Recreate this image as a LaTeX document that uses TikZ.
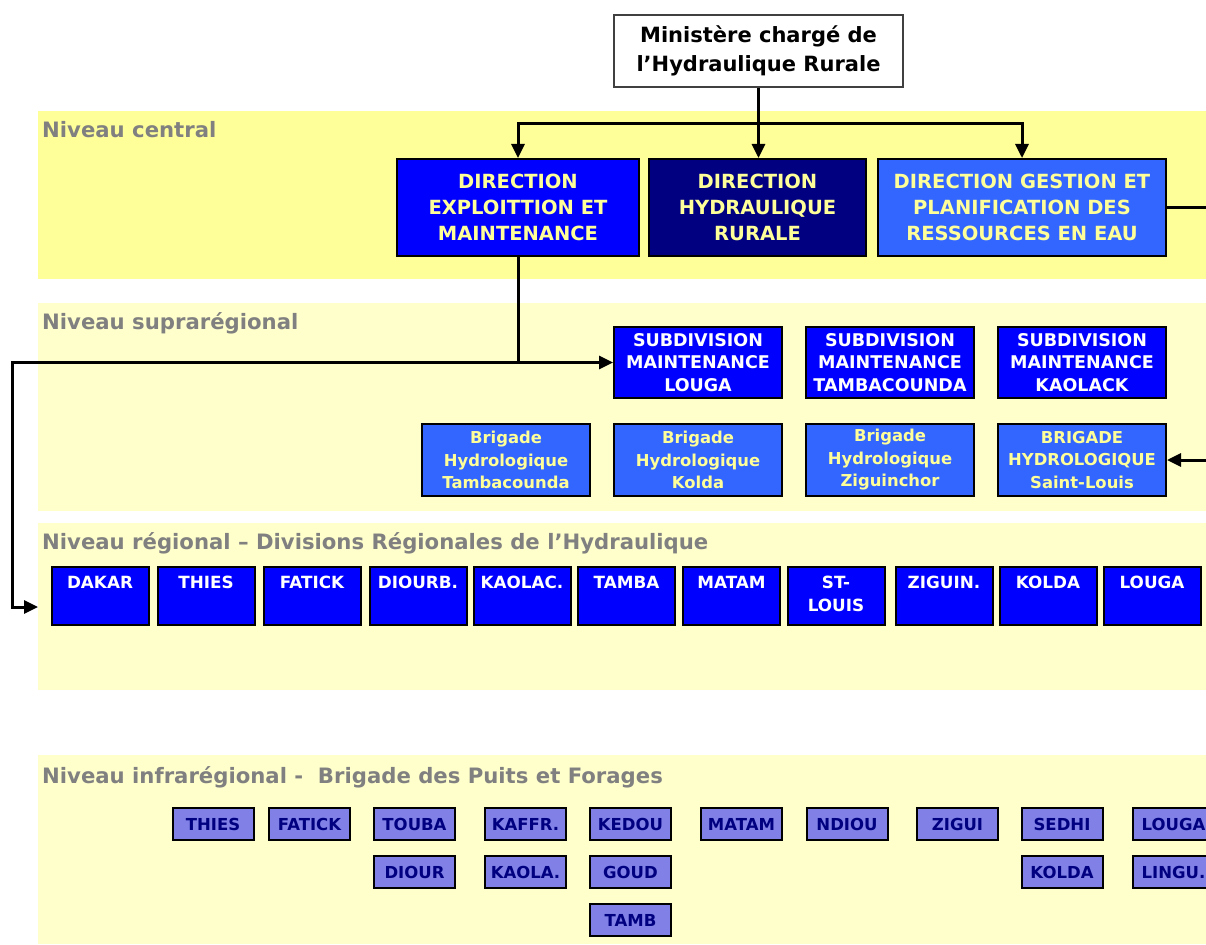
\documentclass[tikz,border=0pt]{standalone}
\usepackage{fontspec}
\setmainfont{DejaVu Sans}
\usetikzlibrary{arrows.meta}
\definecolor{bandA}{HTML}{FFFF99}
\definecolor{bandB}{HTML}{FFFFCC}
\definecolor{lblgray}{HTML}{808080}
\definecolor{blueA}{HTML}{0000FF}
\definecolor{blueB}{HTML}{000080}
\definecolor{blueC}{HTML}{3366FF}
\definecolor{lav}{HTML}{8080E6}
\definecolor{txtyellow}{HTML}{FFFF99}
\definecolor{navytxt}{HTML}{000080}
\tikzset{
  lvl/.style={anchor=west, text=lblgray, inner sep=0pt, font=\fontsize{21.2}{24}\selectfont\bfseries},
  box/.style={draw=black, line width=2pt, rectangle, inner sep=0pt, align=center},
  minbox/.style={draw=black!75, line width=1.5pt, fill=white, minimum width=289, minimum height=72, inner sep=0pt, align=center, font=\fontsize{21}{29}\selectfont\bfseries},
  dirbox/.style={box, minimum height=97, text=txtyellow, font=\fontsize{19.5}{26}\selectfont\bfseries},
  subbox/.style={box, fill=blueA, minimum width=168, minimum height=71, text=white, font=\fontsize{17.5}{22.5}\selectfont\bfseries},
  brigbox/.style={box, fill=blueC, minimum width=168, minimum height=72, text=txtyellow, font=\fontsize{16.4}{22.5}\selectfont\bfseries},
  regbox/.style={box, fill=blueA, text=white, font=\fontsize{16.8}{23}\selectfont\bfseries},
  infbox/.style={box, fill=lav, minimum width=81, minimum height=32, text=navytxt, font=\fontsize{16.5}{20}\selectfont\bfseries},
  conn/.style={line width=3pt, -{Triangle[length=14pt,width=13pt]}},
  biconn/.style={line width=3pt, {Triangle[length=14pt,width=13pt]}-{Triangle[length=14pt,width=13pt]}}
}
\newcommand\regtxt[1]{\parbox[c][58pt][t]{97pt}{\centering\rule{0pt}{21pt}#1}}
\begin{document}
\begin{tikzpicture}[x=1pt,y=-1pt]
\useasboundingbox (0,0) rectangle (1206,944);
\begin{scope}
\clip (0,0) rectangle (1206,944);
% bands
\fill[bandA] (38,111) rectangle (1206,279);
\fill[bandB] (38,303) rectangle (1206,511);
\fill[bandB] (38,523) rectangle (1206,690);
\fill[bandB] (38,755) rectangle (1206,944);
\node[lvl] (l1) at (42,130) {Niveau central};
\node[lvl] (l2) at (42,323) {Niveau suprarégional};
\node[lvl] (l3) at (42,543) {Niveau régional – Divisions Régionales de l’Hydraulique};
\node[lvl] (l4) at (42,777) {Niveau infrarégional -\ \ Brigade des Puits et Forages};
% top
\node[minbox] (min) at (758.5,51) {Ministère chargé de\\l’Hydraulique Rurale};
\node[dirbox, fill=blueA, minimum width=242] (dem) at (518,207.5) {DIRECTION\\EXPLOITTION ET\\MAINTENANCE};
\node[dirbox, fill=blueB, minimum width=217] (dhr) at (757.5,207.5) {DIRECTION\\HYDRAULIQUE\\RURALE};
\node[dirbox, fill=blueC, minimum width=288] (dgpre) at (1022,207.5) {DIRECTION GESTION ET\\PLANIFICATION DES\\RESSOURCES EN EAU};
% supraregional
\node[subbox] (subL) at (698,362.5) {SUBDIVISION\\MAINTENANCE\\LOUGA};
\node[subbox] (subT) at (890,362.5) {SUBDIVISION\\MAINTENANCE\\TAMBACOUNDA};
\node[subbox] (subK) at (1082,362.5) {SUBDIVISION\\MAINTENANCE\\KAOLACK};
\node[brigbox] (brT) at (506,460) {Brigade\\Hydrologique\\Tambacounda};
\node[brigbox] (brK) at (698,460) {Brigade\\Hydrologique\\Kolda};
\node[brigbox] (brZ) at (890,460) {Brigade\\Hydrologique\\Ziguinchor};
\node[brigbox] (brS) at (1082,460) {BRIGADE\\HYDROLOGIQUE\\Saint-Louis};
% regional
\node[regbox] (rDAK) at (100,596) {\regtxt{DAKAR}};
\node[regbox] (rTHI) at (206,596) {\regtxt{THIES}};
\node[regbox] (rFAT) at (312,596) {\regtxt{FATICK}};
\node[regbox] (rDIO) at (418,596) {\regtxt{DIOURB.}};
\node[regbox] (rKAO) at (522,596) {\regtxt{KAOLAC.}};
\node[regbox] (rTAM) at (626.5,596) {\regtxt{TAMBA}};
\node[regbox] (rMAT) at (731.5,596) {\regtxt{MATAM}};
\node[regbox] (rSTL) at (836,596) {\regtxt{ST-\\LOUIS}};
\node[regbox] (rZIG) at (944,596) {\regtxt{ZIGUIN.}};
\node[regbox] (rKOL) at (1048,596) {\regtxt{KOLDA}};
\node[regbox] (rLOU) at (1152,596) {\regtxt{LOUGA}};
% infraregional
\node[infbox] (iTHI) at (213,824) {THIES};
\node[infbox] (iFAT) at (309.5,824) {FATICK};
\node[infbox] (iTOU) at (414.5,824) {TOUBA};
\node[infbox] (iKAF) at (525.5,824) {KAFFR.};
\node[infbox] (iKED) at (630.5,824) {KEDOU};
\node[infbox] (iMAT) at (741.5,824) {MATAM};
\node[infbox] (iNDI) at (847,824) {NDIOU};
\node[infbox] (iZIG) at (957.5,824) {ZIGUI};
\node[infbox] (iSED) at (1062,824) {SEDHI};
\node[infbox] (iLOU) at (1173.5,824) {LOUGA};
\node[infbox] (iDIO) at (414.5,872) {DIOUR};
\node[infbox] (iKAL) at (525.5,872) {KAOLA.};
\node[infbox] (iGOU) at (630.5,872) {GOUD};
\node[infbox] (iKOL) at (1062,872) {KOLDA};
\node[infbox] (iLIN) at (1173.5,872) {LINGU.};
\node[infbox] (iTAB) at (630.5,920) {TAMB};
% connectors
\coordinate (bar) at (758,124);
\draw[conn] (min.south) -- (min.south |- dhr.north);
\draw[biconn] (dem.north) |- (bar) -| (dgpre.north);
\coordinate (junc) at (dem.south |- subL.west);
\coordinate (leftc) at (12,362.5);
\coordinate (regin) at (38,607);
\coordinate (rout) at (1240,207.5);
\draw[conn] (dem.south) |- (subL.west);
\draw[conn] (junc) -- (leftc) |- (regin);
\draw[conn] (dgpre.east) -- (rout) |- (brS.east);
\end{scope}
\end{tikzpicture}
\end{document}
